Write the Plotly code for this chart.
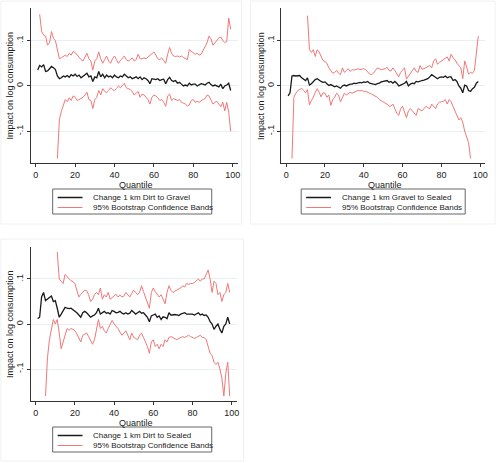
import plotly.graph_objects as go

quantiles = list(range(1, 100))

# Panel 1: Dirt to Gravel
p1_est = [0.035, 0.045, 0.042, 0.047, 0.032, 0.033, 0.038, 0.043, 0.040, 0.036,
          0.022, 0.016, 0.018, 0.022, 0.020, 0.023, 0.019, 0.025, 0.022, 0.026,
          0.021, 0.024, 0.018, 0.022, 0.025, 0.028, 0.020, 0.022, 0.010, 0.020,
          0.018, 0.032, 0.020, 0.026, 0.018, 0.024, 0.020, 0.022, 0.018, 0.024,
          0.020, 0.018, 0.022, 0.020, 0.026, 0.022, 0.018, 0.020, 0.016, 0.018,
          0.020, 0.016, 0.020, 0.014, 0.018, 0.016, 0.012, 0.005, 0.016, 0.015,
          0.014, 0.016, 0.012, 0.014, 0.015, 0.005, 0.014, 0.019, 0.012, 0.010,
          0.012, 0.006, 0.008, 0.004, 0.000, 0.002, 0.000, 0.006, 0.002, 0.004,
          0.004, 0.000, 0.003, 0.005, 0.004, 0.002, 0.006, 0.008, 0.003, 0.000,
          0.002, 0.000, -0.002, 0.004, -0.006, 0.000, 0.002, 0.006, -0.010]
p1_up = [None, 0.158, 0.120, 0.112, 0.110, 0.090, 0.095, 0.120, 0.105, 0.100,
         0.080, 0.060, 0.062, 0.065, 0.068, 0.065, 0.072, 0.068, 0.076, 0.074,
         0.068, 0.062, 0.058, 0.055, 0.065, 0.072, 0.060, 0.055, 0.035, 0.055,
         0.060, 0.075, 0.060, 0.050, 0.058, 0.066, 0.055, 0.050, 0.060, 0.066,
         0.058, 0.050, 0.056, 0.060, 0.066, 0.058, 0.055, 0.058, 0.062, 0.055,
         0.058, 0.070, 0.060, 0.060, 0.062, 0.060, 0.064, 0.066, 0.070, 0.075,
         0.068, 0.060, 0.058, 0.062, 0.056, 0.050, 0.070, 0.085, 0.072, 0.066,
         0.065, 0.066, 0.064, 0.066, 0.063, 0.060, 0.058, 0.080, 0.076, 0.074,
         0.070, 0.072, 0.068, 0.070, 0.078, 0.086, 0.095, 0.110, 0.104, 0.090,
         0.096, 0.100, 0.106, 0.108, 0.100, 0.096, 0.098, 0.150, 0.125]
p1_lo = [None, None, None, None, None, None, None, None, None, None,
         -0.160, -0.075, -0.056, -0.042, -0.030, -0.035, -0.026, -0.032, -0.022, -0.025,
         -0.032, -0.030, -0.028, -0.025, -0.020, -0.014, -0.030, -0.032, -0.050, -0.030,
         -0.025, -0.010, -0.020, -0.006, -0.012, -0.015, -0.010, -0.004, -0.008, -0.010,
         -0.006, 0.000, -0.004, 0.002, 0.006, -0.004, -0.006, -0.008, -0.012, -0.020,
         -0.016, -0.012, -0.025, -0.018, -0.020, -0.024, -0.030, -0.040, -0.025, -0.020,
         -0.022, -0.026, -0.032, -0.030, -0.036, -0.045, -0.022, -0.018, -0.032, -0.028,
         -0.030, -0.032, -0.030, -0.036, -0.038, -0.040, -0.044, -0.042, -0.032, -0.030,
         -0.036, -0.034, -0.036, -0.032, -0.030, -0.028, -0.020, -0.022, -0.032, -0.040,
         -0.036, -0.034, -0.040, -0.046, -0.036, -0.055, -0.036, -0.058, -0.100]

# Panel 2: Gravel to Sealed
p2_est = [-0.022, -0.015, 0.022, 0.023, 0.022, 0.022, 0.023, 0.018, 0.014, 0.012,
          0.018, 0.002, 0.005, 0.010, 0.014, 0.016, 0.012, 0.010, 0.008, 0.009,
          0.005, 0.001, 0.003, 0.000, -0.002, 0.000, -0.003, -0.005, 0.000, 0.002,
          0.000, 0.003, 0.004, 0.004, 0.006, 0.005, 0.007, 0.008, 0.007, 0.009,
          0.008, 0.010, 0.006, 0.005, 0.004, 0.003, 0.005, 0.006, 0.009, 0.010,
          0.011, 0.012, 0.008, 0.010, 0.006, 0.010, 0.006, 0.000, 0.002, 0.004,
          0.006, 0.010, 0.000, 0.004, 0.006, 0.005, 0.010, 0.009, 0.011, 0.012,
          0.013, 0.015, 0.016, 0.020, 0.025, 0.022, 0.018, 0.016, 0.019, 0.020,
          0.019, 0.022, 0.018, 0.020, 0.020, 0.012, 0.014, 0.010, 0.000, -0.005,
          -0.015, 0.002, 0.000, -0.010, -0.012, -0.006, -0.003, 0.006, 0.010]
p2_up = [None, None, None, None, None, None, None, None, None, None,
         0.155, 0.080, 0.074, 0.080, 0.065, 0.080, 0.075, 0.066, 0.056, 0.054,
         0.050, 0.040, 0.034, 0.028, 0.030, 0.034, 0.028, 0.025, 0.040, 0.030,
         0.034, 0.038, 0.032, 0.036, 0.035, 0.037, 0.038, 0.036, 0.037, 0.038,
         0.036, 0.030, 0.026, 0.025, 0.028, 0.034, 0.040, 0.038, 0.036, 0.037,
         0.038, 0.041, 0.034, 0.033, 0.040, 0.034, 0.028, 0.020, 0.030, 0.036,
         0.040, 0.015, 0.022, 0.026, 0.034, 0.040, 0.032, 0.030, 0.045, 0.037,
         0.038, 0.040, 0.042, 0.045, 0.040, 0.055, 0.060, 0.048, 0.052, 0.055,
         0.058, 0.060, 0.064, 0.055, 0.070, 0.062, 0.058, 0.050, 0.046, 0.040,
         0.016, 0.055, 0.042, 0.026, 0.030, 0.028, 0.034, 0.070, 0.110]
p2_lo = [None, None, -0.160, -0.025, -0.016, -0.010, -0.008, -0.005, -0.010, -0.015,
         -0.008, -0.042, -0.032, -0.025, -0.014, -0.006, -0.014, -0.024, -0.015, -0.016,
         -0.025, -0.020, -0.043, -0.030, -0.025, -0.016, -0.020, -0.035, -0.026, -0.016,
         -0.020, -0.016, -0.014, -0.016, -0.013, -0.012, -0.010, -0.011, -0.010, -0.012,
         -0.012, -0.015, -0.016, -0.018, -0.020, -0.022, -0.025, -0.030, -0.032, -0.035,
         -0.038, -0.040, -0.045, -0.044, -0.040, -0.050, -0.060, -0.065, -0.050, -0.045,
         -0.060, -0.070, -0.055, -0.050, -0.055, -0.060, -0.065, -0.050, -0.052, -0.055,
         -0.050, -0.045, -0.048, -0.050, -0.040, -0.045, -0.050, -0.040, -0.036, -0.035,
         -0.034, -0.030, -0.040, -0.030, -0.035, -0.045, -0.055, -0.065, -0.075, -0.070,
         -0.080, -0.100, -0.112, -0.125, -0.160, None, None, None, None]

# Panel 3: Dirt to Sealed
p3_est = [0.012, 0.015, 0.060, 0.070, 0.052, 0.055, 0.058, 0.062, 0.050, 0.052,
          0.035, 0.015, 0.022, 0.030, 0.037, 0.035, 0.034, 0.035, 0.032, 0.030,
          0.025, 0.020, 0.015, 0.025, 0.028, 0.025, 0.020, 0.015, 0.018, 0.020,
          0.025, 0.035, 0.022, 0.026, 0.028, 0.024, 0.025, 0.022, 0.030, 0.028,
          0.025, 0.026, 0.028, 0.024, 0.022, 0.025, 0.022, 0.024, 0.030, 0.026,
          0.022, 0.025, 0.028, 0.024, 0.025, 0.020, 0.015, 0.005, 0.018, 0.020,
          0.022, 0.015, 0.018, 0.010, 0.016, 0.015, 0.012, 0.025, 0.020, 0.020,
          0.021, 0.020, 0.019, 0.022, 0.024, 0.025, 0.022, 0.022, 0.021, 0.022,
          0.020, 0.022, 0.025, 0.020, 0.022, 0.019, 0.020, 0.015, 0.005, 0.000,
          -0.012, -0.005, 0.000, -0.012, -0.020, -0.005, 0.000, 0.015, 0.000]
p3_up = [None, None, None, None, None, None, None, None, None, None,
         0.160, 0.100, 0.095, 0.090, 0.110, 0.105, 0.100, 0.096, 0.094, 0.090,
         0.075, 0.060, 0.066, 0.070, 0.075, 0.074, 0.065, 0.050, 0.055, 0.065,
         0.070, 0.065, 0.080, 0.055, 0.065, 0.060, 0.070, 0.055, 0.058, 0.062,
         0.066, 0.060, 0.064, 0.060, 0.062, 0.070, 0.065, 0.060, 0.068, 0.075,
         0.070, 0.065, 0.070, 0.085, 0.072, 0.060, 0.045, 0.035, 0.070, 0.080,
         0.072, 0.065, 0.060, 0.065, 0.055, 0.045, 0.070, 0.085, 0.075, 0.070,
         0.073, 0.075, 0.078, 0.080, 0.085, 0.082, 0.090, 0.088, 0.090, 0.090,
         0.092, 0.095, 0.100, 0.095, 0.100, 0.100, 0.110, 0.120, 0.100, 0.070,
         0.095, 0.090, 0.065, 0.070, 0.050, 0.065, 0.070, 0.090, 0.070]
p3_lo = [None, None, None, None, -0.160, -0.075, -0.035, -0.010, 0.010, 0.000,
         0.010, -0.020, -0.055, -0.040, -0.025, -0.010, -0.014, -0.010, -0.012, -0.015,
         -0.022, -0.030, -0.040, -0.025, -0.022, -0.020, -0.028, -0.035, -0.045, -0.035,
         -0.010, 0.010, -0.010, -0.005, -0.015, -0.020, -0.010, 0.000, 0.008, 0.000,
         -0.004, -0.010, -0.018, -0.025, -0.020, -0.015, -0.025, -0.035, -0.020, -0.030,
         -0.032, -0.035, -0.025, -0.020, -0.030, -0.040, -0.050, -0.065, -0.040, -0.035,
         -0.050, -0.045, -0.055, -0.045, -0.050, -0.035, -0.040, -0.030, -0.028, -0.030,
         -0.032, -0.035, -0.032, -0.030, -0.028, -0.030, -0.028, -0.025, -0.028, -0.030,
         -0.032, -0.030, -0.028, -0.025, -0.030, -0.030, -0.035, -0.050, -0.065, -0.070,
         -0.085, -0.090, -0.085, -0.100, -0.120, -0.160, -0.110, -0.085, -0.160]

est_names = ["Change 1 km Dirt to Gravel", "Change 1 km Gravel to Sealed", "Change 1 km Dirt to Sealed"]
band_name = "95% Bootstrap Confidence Bands"
x_ticks = [0, 20, 40, 60, 80, 100]
y_ticks = [-0.1, 0, 0.1]
y_ticktext = ["-.1", "0", ".1"]

W, H = 500, 463
def px(x): return x / W
def py(y): return 1 - y / H

panels = [
    dict(est=p1_est, up=p1_up, lo=p1_lo, xd=(31, 239), yd=(8, 163), yr=(-0.170, 0.172),
         leg=(53, 189, 213, 214), box=(1, 1, 243, 224), xt=185, yt=10),
    dict(est=p2_est, up=p2_up, lo=p2_lo, xd=(283, 488), yd=(8, 163), yr=(-0.170, 0.172),
         leg=(303, 189, 468, 214), box=(252, 1, 498, 224), xt=185, yt=262),
    dict(est=p3_est, up=p3_up, lo=p3_lo, xd=(31, 238), yd=(247, 401), yr=(-0.171, 0.171),
         leg=(53, 427, 213, 452), box=(1, 239, 245, 461), xt=423, yt=10),
]

BLACK = "#1a1a1a"
RED = "#f07878"
GRID = "#e8eff1"
FONT = "Liberation Sans, Arial, sans-serif"

fig = go.Figure()
layout = dict(width=W, height=H, margin=dict(l=0, r=0, t=0, b=0),
              paper_bgcolor="white", plot_bgcolor="white", showlegend=False,
              font=dict(family=FONT, size=9, color="#222"),
              shapes=[], annotations=[])

for i, p in enumerate(panels):
    n = "" if i == 0 else str(i + 1)
    xa, ya = "x" + n, "y" + n
    fig.add_trace(go.Scatter(x=quantiles, y=p["est"], mode="lines", name=est_names[i],
                             line=dict(color=BLACK, width=1.3), xaxis=xa, yaxis=ya))
    fig.add_trace(go.Scatter(x=quantiles, y=p["up"], mode="lines", name=band_name,
                             line=dict(color=RED, width=1), xaxis=xa, yaxis=ya))
    fig.add_trace(go.Scatter(x=quantiles, y=p["lo"], mode="lines", name=band_name,
                             line=dict(color=RED, width=1), xaxis=xa, yaxis=ya))
    layout["xaxis" + n] = dict(domain=[px(p["xd"][0]), px(p["xd"][1])], range=[-2.5, 102.5],
                               anchor=ya, tickvals=x_ticks, showgrid=False, zeroline=False,
                               showline=True, linecolor="#333", linewidth=1,
                               ticks="outside", ticklen=3, tickcolor="#333",
                               tickfont=dict(size=9, color="#222"))
    layout["yaxis" + n] = dict(domain=[py(p["yd"][1]), py(p["yd"][0])], range=list(p["yr"]),
                               anchor=xa, tickvals=y_ticks, ticktext=y_ticktext, tickangle=-90,
                               showgrid=True, gridcolor=GRID, gridwidth=1, zeroline=False,
                               showline=True, linecolor="#333", linewidth=1,
                               ticks="outside", ticklen=3, tickcolor="#333",
                               tickfont=dict(size=9, color="#222"))
    # legend box (drawn with shapes + text)
    lx0, ly0, lx1, ly1 = p["leg"]
    layout["shapes"].append(dict(type="rect", xref="paper", yref="paper",
                                 x0=px(lx0), x1=px(lx1), y0=py(ly1), y1=py(ly0),
                                 line=dict(color="#666", width=1), fillcolor="white"))
    rows = [(ly0 + 8.5, BLACK, 1.5, est_names[i]), (ly0 + 18.5, RED, 1, band_name)]
    for ry, col, wd, txt in rows:
        layout["shapes"].append(dict(type="line", xref="paper", yref="paper",
                                     x0=px(lx0 + 5), x1=px(lx0 + 30), y0=py(ry), y1=py(ry),
                                     line=dict(color=col, width=wd)))
        layout["annotations"].append(dict(text=txt, xref="paper", yref="paper",
                                          x=px(lx0 + 39), y=py(ry), xanchor="left",
                                          yanchor="middle", showarrow=False,
                                          font=dict(size=8, color="#222")))
    b = p["box"]
    layout["shapes"].append(dict(type="rect", xref="paper", yref="paper",
                                 x0=px(b[0]), x1=px(b[2]), y0=py(b[3]), y1=py(b[1]),
                                 line=dict(color="#f0f0f0", width=1), layer="below"))
    xc = (p["xd"][0] + p["xd"][1]) / 2
    layout["annotations"].append(dict(text="Quantile", xref="paper", yref="paper",
                                      x=px(xc + 2), y=py(p["xt"]), xanchor="center",
                                      yanchor="middle", showarrow=False,
                                      font=dict(size=9, color="#222")))
    yc = (p["yd"][0] + p["yd"][1]) / 2
    layout["annotations"].append(dict(text="Impact on log consumption", xref="paper", yref="paper",
                                      x=px(p["yt"]), y=py(yc), textangle=-90, showarrow=False,
                                      xanchor="center", yanchor="middle",
                                      font=dict(size=9, color="#222")))

fig.update_layout(**layout)
fig.write_html("out.html", config={"displayModeBar": False},
               post_script="document.body.style.margin='0';document.body.style.padding='0';")
